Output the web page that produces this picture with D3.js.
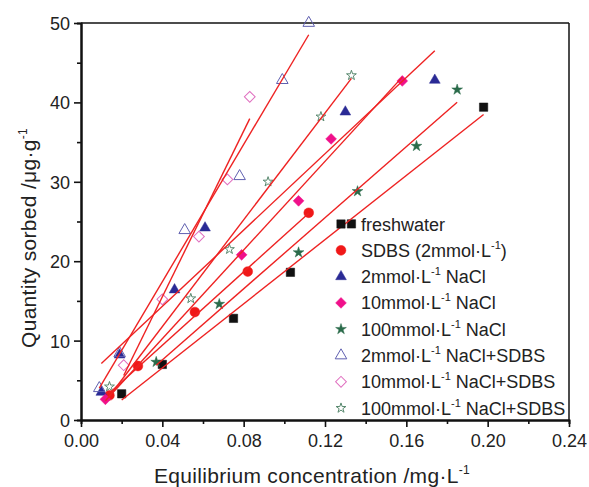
<!DOCTYPE html>
<html>
<head>
<meta charset="utf-8">
<script src="https://cdn.jsdelivr.net/npm/d3@7"></script>
<style>
  body { margin: 0; background: #fff; }
  svg text { font-family: Arial, "Liberation Sans", sans-serif; fill: #222; }
</style>
</head>
<body>
<svg id="chart" width="589" height="487"></svg>
<script>
// values
var freshX = [0.020, 0.040, 0.075, 0.103, 0.133, 0.198]
var freshY = [3.3, 7.0, 12.8, 18.6, 24.7, 39.4]
var sdbsX = [0.014, 0.028, 0.056, 0.082, 0.112]
var sdbsY = [3.1, 6.8, 13.6, 18.7, 26.1]
var nacl2X = [0.010, 0.019, 0.046, 0.061, 0.130, 0.174]
var nacl2Y = [3.5, 8.2, 16.4, 24.2, 38.8, 42.8]
var nacl10X = [0.012, 0.079, 0.107, 0.123, 0.158]
var nacl10Y = [2.6, 20.8, 27.6, 35.4, 42.7]
var nacl100X = [0.037, 0.068, 0.107, 0.136, 0.165, 0.185]
var nacl100Y = [7.3, 14.6, 21.1, 28.8, 34.5, 41.6]
var nacl2sX = [0.009, 0.019, 0.051, 0.078, 0.099, 0.112]
var nacl2sY = [4.0, 8.4, 23.9, 30.7, 42.8, 50.0]
var nacl10sX = [0.021, 0.040, 0.058, 0.072, 0.083]
var nacl10sY = [6.9, 15.2, 23.1, 30.3, 40.7]
var nacl100sX = [0.014, 0.054, 0.073, 0.092, 0.118, 0.133]
var nacl100sY = [4.2, 15.3, 21.5, 30.0, 38.2, 43.4]

var xMajor = [0, 0.04, 0.08, 0.12, 0.16, 0.20, 0.24]
var yMajor = [0, 10, 20, 30, 40, 50]

// label pieces: odd index = superscript
var labels = [
  ["freshwater"],
  ["SDBS (2mmol·L", "-1", ")"],
  ["2mmol·L", "-1", " NaCl"],
  ["10mmol·L", "-1", " NaCl"],
  ["100mmol·L", "-1", " NaCl"],
  ["2mmol·L", "-1", " NaCl+SDBS"],
  ["10mmol·L", "-1", " NaCl+SDBS"],
  ["100mmol·L", "-1", " NaCl+SDBS"]
]

var series = [
  {x: freshX, y: freshY, sym: d3.symbolSquare, size: 70, color: "#111", fill: true, rot: 0},
  {x: sdbsX, y: sdbsY, sym: d3.symbolCircle, size: 75, color: "#f01818", fill: true, rot: 0},
  {x: nacl2X, y: nacl2Y, sym: d3.symbolTriangle, size: 50, color: "#2a2a95", fill: true, rot: 0},
  {x: nacl10X, y: nacl10Y, sym: d3.symbolSquare, size: 58, color: "#f0108a", fill: true, rot: 45},
  {x: nacl100X, y: nacl100Y, sym: d3.symbolStar, size: 36, color: "#2a6b4a", fill: true, rot: 0},
  {x: nacl2sX, y: nacl2sY, sym: d3.symbolTriangle, size: 58, color: "#6060b0", fill: false, rot: 0},
  {x: nacl10sX, y: nacl10sY, sym: d3.symbolSquare, size: 58, color: "#e070c0", fill: false, rot: 45},
  {x: nacl100sX, y: nacl100sY, sym: d3.symbolStar, size: 30, color: "#5a8a70", fill: false, rot: 0}
]

var margin = {top: 23, right: 20, bottom: 67, left: 81}
var width = 589 - margin.left - margin.right,
    height = 487 - margin.top - margin.bottom

var svg = d3.select("#chart")
var g = svg.append("g").attr("transform", "translate(" + margin.left + "," + margin.top + ")")

var x = d3.scaleLinear().domain([0, 0.24]).range([0, width])
var y = d3.scaleLinear().domain([0, 50]).range([height, 0])

// frame top / right
g.append("line").attr("x1", 0).attr("x2", width).attr("y1", 0).attr("y2", 0)
  .attr("stroke", "#111").attr("stroke-width", 1.5)
g.append("line").attr("x1", width).attr("x2", width).attr("y1", 0).attr("y2", height)
  .attr("stroke", "#111").attr("stroke-width", 1.5)

// minor ticks
g.append("g").attr("transform", "translate(0," + height + ")")
  .call(d3.axisBottom(x).tickValues(d3.range(0.02, 0.24, 0.04)).tickSize(4).tickFormat(""))
g.append("g")
  .call(d3.axisLeft(y).tickValues(d3.range(5, 50, 10)).tickSize(4).tickFormat(""))

// major axes
var xAxis = g.append("g").attr("transform", "translate(0," + height + ")")
  .call(d3.axisBottom(x).tickValues(xMajor).tickSize(7).tickSizeOuter(0).tickPadding(7).tickFormat(d3.format(".2f")))
var yAxis = g.append("g")
  .call(d3.axisLeft(y).tickValues(yMajor).tickSize(7).tickSizeOuter(0).tickPadding(4).tickFormat(d3.format("d")))

g.selectAll(".domain").attr("stroke", "#111").attr("stroke-width", 2)
g.selectAll(".tick line").attr("stroke", "#111").attr("stroke-width", 1.6)
g.selectAll(".tick text").style("font-size", "18px").attr("fill", "#222")
yAxis.selectAll(".tick text").attr("dy", "0.36em")

// points
series.forEach(function(s) {
  var pts = s.x.map(function(v, i) { return [v, s.y[i]] })
  g.append("g").selectAll("path")
    .data(pts)
    .enter()
    .append("path")
      .attr("d", d3.symbol().type(s.sym).size(s.size))
      .attr("transform", function(d) {
        return "translate(" + x(d[0]) + "," + y(d[1]) + ") rotate(" + s.rot + ")" })
      .attr("fill", s.fill ? s.color : "none")
      .attr("stroke", s.color)
      .attr("stroke-width", s.fill ? 0.5 : 1)
})

// linear fits over each series' range
function fit(xs, ys) {
  var mx = d3.mean(xs), my = d3.mean(ys)
  var sxy = d3.sum(xs, function(v, i) { return (v - mx) * (ys[i] - my) })
  var sxx = d3.sum(xs, function(v) { return (v - mx) * (v - mx) })
  var b = sxy / sxx
  return {b: b, a: my - b * mx}
}
series.forEach(function(s) {
  var f = fit(s.x, s.y)
  var x0 = d3.min(s.x), x1 = d3.max(s.x)
  g.append("line")
    .attr("x1", x(x0)).attr("y1", y(f.a + f.b * x0))
    .attr("x2", x(x1)).attr("y2", y(f.a + f.b * x1))
    .attr("stroke", "#ee2222").attr("stroke-width", 1.4)
})

// legend
var leg = svg.append("g").attr("transform", "translate(341,224)")
series.forEach(function(s, i) {
  var row = leg.append("g").attr("transform", "translate(0," + (i * 26.3) + ")")
  row.append("path")
    .attr("d", d3.symbol().type(s.sym).size(s.size))
    .attr("transform", "rotate(" + s.rot + ")")
    .attr("fill", s.fill ? s.color : "none")
    .attr("stroke", s.color)
    .attr("stroke-width", s.fill ? 0.5 : 1)
  var t = row.append("text").attr("x", 20).attr("y", 6.5).style("font-size", "18px")
  labels[i].forEach(function(p, k) {
    if (k % 2 == 1) {
      t.append("tspan").attr("dy", -8).style("font-size", "11px").text(p)
    } else {
      t.append("tspan").attr("dy", k > 0 ? 8 : 0).text(p)
    }
  })
})

// axis titles
var xt = svg.append("text").attr("x", 312).attr("y", 483)
  .attr("text-anchor", "middle").style("font-size", "21px").style("letter-spacing", "0.3px")
xt.append("tspan").text("Equilibrium concentration /mg·L")
xt.append("tspan").attr("dy", -9).style("font-size", "12px").text("-1")

var yt = svg.append("text").attr("transform", "translate(36,238) rotate(-90)")
  .attr("text-anchor", "middle").style("font-size", "21px").style("letter-spacing", "0.3px")
yt.append("tspan").text("Quantity sorbed /μg·g")
yt.append("tspan").attr("dy", -9).style("font-size", "12px").text("-1")
</script>
</body>
</html>
